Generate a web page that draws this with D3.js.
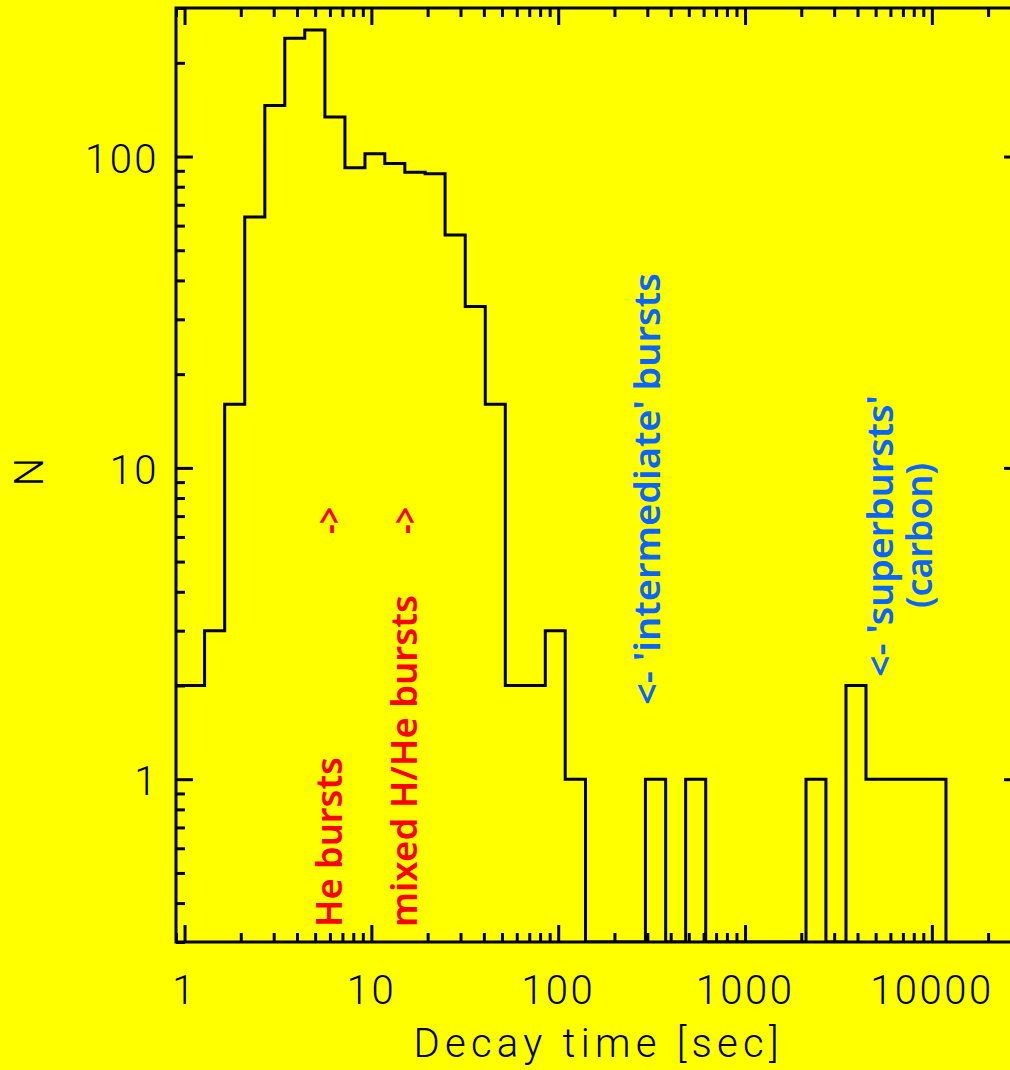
<!DOCTYPE html>
<html>
<head>
<meta charset="utf-8">
<script src="https://cdn.jsdelivr.net/npm/d3@7"></script>
<style>
  html, body { margin: 0; padding: 0; background: #ffff00; }
  svg { display: block; }
</style>
</head>
<body>
<svg id="chart" width="1010" height="1070"></svg>
<script>
// Histogram of burst decay times (logarithmic bins)
const binEdges = [0.781, 1.00, 1.28, 1.64, 2.10, 2.69, 3.44, 4.40, 5.64, 7.22,
                  9.24, 11.8, 15.1, 19.4, 24.8, 31.8, 40.7, 52.1, 66.6, 85.3,
                  109, 140, 179, 229, 293, 376, 481, 616, 788, 1010,
                  1290, 1650, 2120, 2710, 3470, 4440, 5680, 7280, 9320, 11900];
const binCounts = [2, 2, 3, 16, 64, 146, 240, 255, 134, 92,
                   102, 95, 89, 88, 56, 33, 16, 2, 2, 3,
                   1, 0, 0, 0, 1, 0, 1, 0, 0, 0,
                   0, 0, 1, 0, 2, 1, 1, 1, 1];

const xDomain = [0.9, 30000];
const yDomain = [0.3, 300];
const xTickLabels = ["1", "10", "100", "1000", "10000"];
const yTickLabels = ["1", "10", "100"];
const xTitle = "Decay time [sec]";
const yTitle = "N";

// Annotations: text and the decay time they sit at
const heNotes = [
  { text: "He bursts", t: 6.97 },
  { text: "mixed H/He bursts", t: 17.6 }
];
const heArrows = [
  { text: "->", t: 6.97 },
  { text: "->", t: 17.8 }
];
const longNotes = [
  { text: "<- 'intermediate' bursts", t: 351 },
  { text: "<- 'superbursts'", t: 6210 },
  { text: "(carbon)", t: 10000 }
];

const svg = d3.select("#chart");
const W = 1010, H = 1070;
const plot = { left: 176, right: 1021, top: 8, bottom: 942 };

svg.append("rect").attr("width", W).attr("height", H).attr("fill", "#ffff00");

const x = d3.scaleLog().domain(xDomain).range([plot.left, plot.right]);
const y = d3.scaleLog().domain(yDomain).range([plot.bottom, plot.top]);

svg.append("defs").append("clipPath").attr("id", "plotClip")
  .append("rect")
  .attr("x", plot.left).attr("y", plot.top)
  .attr("width", plot.right - plot.left).attr("height", plot.bottom - plot.top);

// Step outline of the histogram; empty bins sit on the bottom axis
const floorN = yDomain[0];
const pts = binCounts.map((c, i) => [binEdges[i], Math.max(c, floorN)]);
pts.push([binEdges[binEdges.length - 1], floorN]);
const step = d3.line()
  .x(d => x(d[0]))
  .y(d => y(d[1]))
  .curve(d3.curveStepAfter);

svg.append("path")
  .attr("clip-path", "url(#plotClip)")
  .attr("d", step(pts))
  .attr("fill", "none")
  .attr("stroke", "#000")
  .attr("stroke-width", 3)
  .attr("stroke-linejoin", "miter");

// Axes: ticks on all four sides, pointing inward
const isMajor = v => Math.abs(Math.log10(v) - Math.round(Math.log10(v))) < 1e-9;
const xTicks = x.ticks();
const yTicks = y.ticks();
const xMajor = xTicks.filter(isMajor), xMinor = xTicks.filter(v => !isMajor(v));
const yMajor = yTicks.filter(isMajor), yMinor = yTicks.filter(v => !isMajor(v));

function drawAxis(axisFn, scale, vals, size, tx, ty) {
  const g = svg.append("g")
    .attr("transform", `translate(${tx},${ty})`)
    .call(axisFn(scale).tickValues(vals).tickSize(-size).tickFormat(""));
  g.select(".domain").remove();
  g.selectAll(".tick line").attr("stroke", "#000").attr("stroke-width", 3);
  return g;
}
[[xMinor, 9], [xMajor, 17]].forEach(([v, s]) => {
  drawAxis(d3.axisBottom, x, v, s, 0, plot.bottom);
  drawAxis(d3.axisTop, x, v, s, 0, plot.top);
});
[[yMinor, 9], [yMajor, 17]].forEach(([v, s]) => {
  drawAxis(d3.axisLeft, y, v, s, plot.left, 0);
  drawAxis(d3.axisRight, y, v, s, plot.right, 0);
});

svg.append("rect")
  .attr("x", plot.left).attr("y", plot.top)
  .attr("width", plot.right - plot.left).attr("height", plot.bottom - plot.top)
  .attr("fill", "none").attr("stroke", "#000").attr("stroke-width", 3);

// Tick labels
const labelFont = "Roboto, 'DejaVu Sans', sans-serif";
svg.append("g").selectAll("text")
  .data(xTickLabels)
  .join("text")
  .attr("x", d => x(+d))
  .attr("y", plot.bottom + 62)
  .attr("text-anchor", "middle")
  .attr("font-family", labelFont)
  .attr("font-weight", 300)
  .attr("font-size", 40)
  .attr("letter-spacing", 2.5)
  .attr("fill", "#000")
  .text(d => d);

svg.append("g").selectAll("text")
  .data(yTickLabels)
  .join("text")
  .attr("x", plot.left - 17)
  .attr("y", d => y(+d) + 16)
  .attr("text-anchor", "end")
  .attr("font-family", labelFont)
  .attr("font-weight", 300)
  .attr("font-size", 40)
  .attr("letter-spacing", 2.5)
  .attr("fill", "#000")
  .text(d => d);

// Axis titles
svg.append("text")
  .attr("x", 596)
  .attr("y", 1057)
  .attr("text-anchor", "middle")
  .attr("font-family", labelFont)
  .attr("font-weight", 300)
  .attr("font-size", 40)
  .attr("textLength", 365)
  .attr("lengthAdjust", "spacing")
  .attr("fill", "#000")
  .text(xTitle);

svg.append("text")
  .attr("transform", `translate(43,472) rotate(-90)`)
  .attr("text-anchor", "middle")
  .attr("font-family", labelFont)
  .attr("font-weight", 300)
  .attr("font-size", 40)
  .attr("fill", "#000")
  .text(yTitle);

// Annotations (vertical text, baseline on the right)
const noteFont = "'Comic Sans MS', 'Noto Sans', sans-serif";
const red = "#ff0000", blue = "#0a64ff";

function vText(px, py, txt, color, len) {
  const t = svg.append("text")
    .attr("transform", `translate(${px},${py}) rotate(-90)`)
    .attr("text-anchor", "start")
    .attr("font-family", noteFont)
    .attr("font-weight", 600)
    .attr("font-size", 36)
    .attr("fill", color)
    .text(txt);
  if (len) t.attr("textLength", len).attr("lengthAdjust", "spacingAndGlyphs");
  return t;
}

const heLayout = [{ len: 170 }, { len: 332 }];
heNotes.forEach((d, i) => vText(x(d.t), plot.bottom - 15, d.text, red, heLayout[i].len));
heArrows.forEach(d => vText(x(d.t), 534, d.text, red, 27));

const longLayout = [
  { py: 705, len: 432 },
  { py: 677, len: 282 },
  { py: 608, len: 145 }
];
longNotes.forEach((d, i) => vText(x(d.t), longLayout[i].py, d.text, blue, longLayout[i].len));
</script>
</body>
</html>
